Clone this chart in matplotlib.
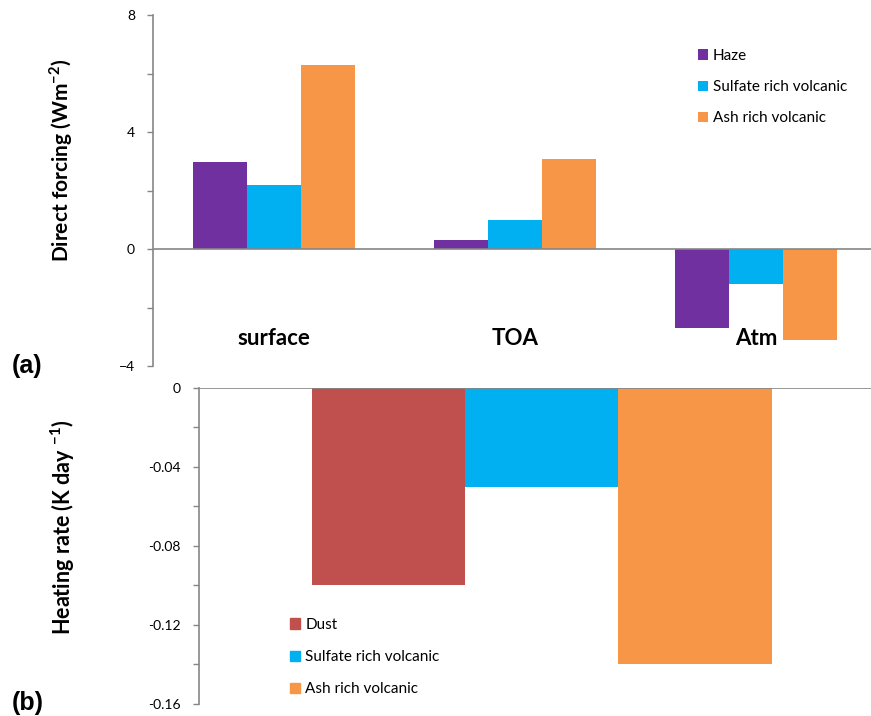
import numpy as np
import matplotlib.pyplot as plt
from matplotlib.ticker import MultipleLocator
from matplotlib.patches import Patch

plt.rcParams['font.family'] = ['Lato', 'DejaVu Sans']

# panel (a): direct forcing
categories = ["surface", "TOA", "Atm"]
haze = [3.0, 0.3, -2.7]
sulfate_a = [2.2, 1.0, -1.2]
ash_a = [6.3, 3.1, -3.1]

# panel (b): heating rate
series_b = ["Dust", "Sulfate rich volcanic", "Ash rich volcanic"]
heating = [-0.10, -0.05, -0.14]

purple = "#7030A0"
blue = "#00B0F0"
orange = "#F79646"
red = "#C0504D"
grey = "#868686"

fig = plt.figure(figsize=(8.71, 7.16), dpi=100)

# ---- (a)
ax1 = fig.add_axes([0.1757, 0.4888, 1 - 0.1757, 0.9784 - 0.4888])
x = np.arange(len(categories))
w = 0.224
ax1.bar(x - w, haze, w, color=purple, label="Haze")
ax1.bar(x, sulfate_a, w, color=blue, label="Sulfate rich volcanic")
ax1.bar(x + w, ash_a, w, color=orange, label="Ash rich volcanic")
ax1.set_xlim(-0.502, 2.477)
ax1.set_ylim(-4, 8)
ax1.yaxis.set_major_locator(MultipleLocator(4))
ax1.yaxis.set_minor_locator(MultipleLocator(2))
ax1.axhline(0, color=grey, lw=1.2, zorder=3)
for s in ["top", "right", "bottom"]:
    ax1.spines[s].set_visible(False)
ax1.spines["left"].set_color(grey)
ax1.spines["left"].set_linewidth(1.2)
ax1.set_xticks([])
ax1.tick_params(axis="y", which="both", length=4, color=grey, width=1.0,
                labelsize=10, pad=9)
for xi, c in zip(x, categories):
    ax1.text(xi, -3.05, c, ha="center", va="center", fontsize=16,
             fontweight="bold")
ax1.set_ylabel("Direct forcing (Wm$^{\\mathregular{-2}}$)", fontsize=15,
               fontweight="bold")
ax1.yaxis.set_label_coords(-0.109, 0.588)
ax1.legend(loc="upper left", bbox_to_anchor=(0.7395, 0.944), frameon=False,
           fontsize=11, handlelength=0.65, handleheight=0.65,
           handletextpad=0.35, labelspacing=1.13)

# ---- (b)
ax2 = fig.add_axes([0.2285, 0.0168, 1 - 0.2285, 0.4581 - 0.0168])
xb = np.array([-1, 0, 1])
ax2.bar(xb, heating, 1.0, color=[red, blue, orange])
ax2.set_xlim(-2.24, 2.15)
ax2.set_ylim(-0.16, 0)
ax2.yaxis.set_minor_locator(MultipleLocator(0.02))
ax2.set_yticks([0, -0.04, -0.08, -0.12, -0.16])
ax2.set_yticklabels(["0", "-0.04", "-0.08", "-0.12", "-0.16"])
ax2.axhline(0, color=grey, lw=1.2, zorder=3)
for s in ["top", "right", "bottom"]:
    ax2.spines[s].set_visible(False)
ax2.spines["left"].set_color(grey)
ax2.spines["left"].set_linewidth(1.2)
ax2.set_xticks([])
ax2.tick_params(axis="y", which="both", length=4, color=grey, width=1.0,
                labelsize=10, pad=9)
ax2.set_ylabel("Heating rate (K day $^{\\mathregular{-1}}$)", fontsize=15.5,
               fontweight="bold")
ax2.yaxis.set_label_coords(-0.1815, 0.56)
handles = [Patch(color=c) for c in [red, blue, orange]]
ax2.legend(handles, series_b, loc="upper left", bbox_to_anchor=(0.115, 0.316),
           frameon=False, fontsize=11, handlelength=0.65, handleheight=0.65,
           handletextpad=0.35, labelspacing=1.19)

fig.text(12 / 871, 1 - 366 / 716, "(a)", fontsize=18, fontweight="bold",
         va="center", ha="left", family="Liberation Sans")
fig.text(12 / 871, 1 - 703 / 716, "(b)", fontsize=18, fontweight="bold",
         va="center", ha="left", family="Liberation Sans")

fig.savefig("out.png", dpi=100)
